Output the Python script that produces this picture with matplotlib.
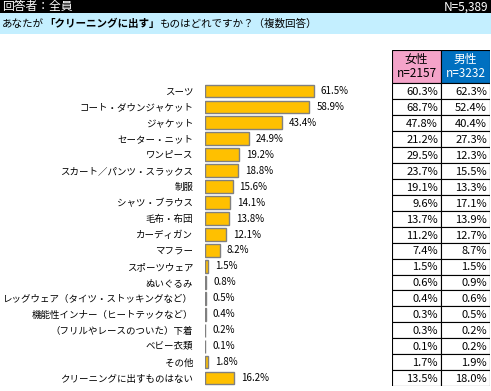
import matplotlib
matplotlib.use("Agg")
import matplotlib.pyplot as plt
from matplotlib.patches import Rectangle

plt.rcParams['font.family'] = ['Noto Sans CJK JP', 'DejaVu Sans']

categories = ["スーツ", "コート・ダウンジャケット", "ジャケット", "セーター・ニット", "ワンピース",
              "スカート／パンツ・スラックス", "制服", "シャツ・ブラウス", "毛布・布団", "カーディガン",
              "マフラー", "スポーツウェア", "ぬいぐるみ", "レッグウェア（タイツ・ストッキングなど）",
              "機能性インナー（ヒートテックなど）", "（フリルやレースのついた）下着", "ベビー衣類",
              "その他", "クリーニングに出すものはない"]
total = [61.5, 58.9, 43.4, 24.9, 19.2, 18.8, 15.6, 14.1, 13.8, 12.1,
         8.2, 1.5, 0.8, 0.5, 0.4, 0.2, 0.1, 1.8, 16.2]
female = [60.3, 68.7, 47.8, 21.2, 29.5, 23.7, 19.1, 9.6, 13.7, 11.2,
          7.4, 1.5, 0.6, 0.4, 0.3, 0.3, 0.1, 1.7, 13.5]
male = [62.3, 52.4, 40.4, 27.3, 12.3, 15.5, 13.3, 17.1, 13.9, 12.7,
        8.7, 1.5, 0.9, 0.6, 0.5, 0.2, 0.2, 1.9, 18.0]
headers = ["女性\nn=2157", "男性\nn=3232"]
header_colors = ["#F4A3C9", "#0070C0"]
header_text_colors = ["#000000", "#FFFFFF"]
respondent = "回答者：全員"
n_total = "N=5,389"
question_parts = [("あなたが", "normal"), ("「クリーニングに出す」", "bold"),
                  ("ものはどれですか？（複数回答）", "normal")]

W, H = 491, 391
fig = plt.figure(figsize=(W / 100, H / 100), dpi=100)
fig.patch.set_facecolor("white")

def px(x0, y0, x1, y1):
    return [x0 / W, 1 - y1 / H, (x1 - x0) / W, (y1 - y0) / H]

# header bands
band = fig.add_axes(px(0, 0, W, 34))
band.set_xlim(0, W)
band.set_ylim(34, 0)
band.axis("off")
band.add_patch(Rectangle((0, 0), W, 13, facecolor="black", edgecolor="none"))
band.add_patch(Rectangle((0, 13), W, 21, facecolor="#C4EFFF", edgecolor="none"))
band.text(2, 6.8, respondent, color="white", fontsize=8.5, va="center", ha="left")
band.text(488, 6.8, n_total, color="white", fontsize=8.5, va="center", ha="right")

fig.canvas.draw()
renderer = fig.canvas.get_renderer()
x = 2
for txt, wt in question_parts:
    t = band.text(x, 24, txt, color="#000000", fontsize=7.6, va="center", ha="left", fontweight=wt)
    bb = t.get_window_extent(renderer=renderer)
    x += bb.width

# bar chart
n = len(categories)
ax = fig.add_axes(px(205, 83, 382, 386))
ax.barh(range(n), total, height=0.8, color="#FFC000", edgecolor="#808080", linewidth=1)
ax.set_xlim(0, 100)
ax.set_ylim(n - 0.5, -0.5)
ax.set_yticks(range(n))
ax.set_yticklabels(categories, fontsize=6.8)
ax.tick_params(axis="y", length=0, pad=8.5)
ax.set_xticks([])
for s in ax.spines.values():
    s.set_visible(False)
for i, v in enumerate(total):
    ax.annotate(f"{v:.1f}%", (v, i), xytext=(5, 0), textcoords="offset points",
                va="center", ha="left", fontsize=7)

# table
tab = fig.add_axes(px(392, 50, 490, 386))
tab.set_xlim(0, 2)
tab.set_ylim(n - 0.5, -2.6)
tab.axis("off")
for j in range(2):
    tab.add_patch(Rectangle((j, -2.6), 1, 2.1, facecolor=header_colors[j],
                            edgecolor="black", linewidth=0.8))
    tab.text(j + 0.5, -1.55, headers[j], color=header_text_colors[j], fontsize=8.5,
             ha="center", va="center", linespacing=1.15)
for i in range(n):
    for j, vals in enumerate([female, male]):
        tab.add_patch(Rectangle((j, i - 0.5), 1, 1, facecolor="white",
                                edgecolor="black", linewidth=0.8))
        tab.text(j + 0.94, i + 0.05, f"{vals[i]:.1f}%", fontsize=8,
                 ha="right", va="center")

fig.savefig("out.png", dpi=100)
